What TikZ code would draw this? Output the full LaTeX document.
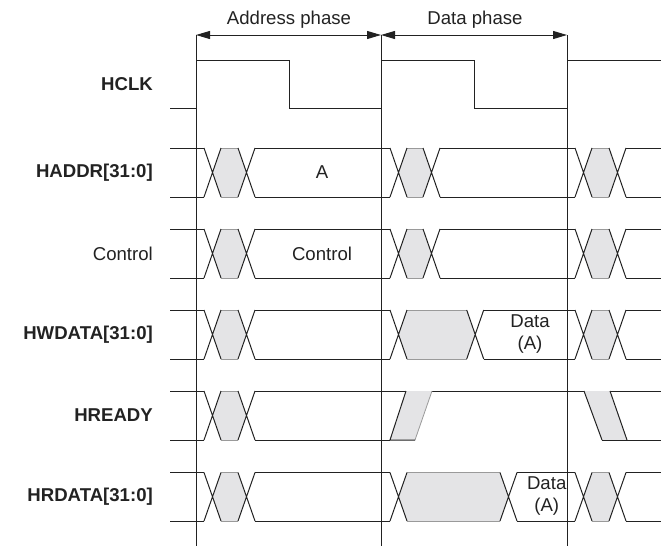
\documentclass[tikz,border=0pt]{standalone}
\usepackage{fontspec}
\setmainfont{Liberation Sans}
\usetikzlibrary{arrows.meta}
\definecolor{ink}{HTML}{222222}
\definecolor{invfill}{HTML}{E4E4E6}
\definecolor{invline}{HTML}{9A9A9A}
\newcommand\ahbinv[4]{%
  \fill[invfill] ({#1+8.5},{(#3+#4)/2}) -- ({#1+17},#3) -- (#2,#3) -- ({#2+8.5},{(#3+#4)/2}) -- (#2,#4) -- ({#1+17},#4) -- cycle;
  \draw[invline,line width=0.8pt] ({#1+17},#3) -- (#2,#3) ({#1+17},#4) -- (#2,#4);
  \draw[sig] (#1,#3) -- ({#1+17},#4) (#1,#4) -- ({#1+17},#3) (#2,#3) -- ({#2+17},#4) (#2,#4) -- ({#2+17},#3);
}
\newcommand\ahbline[4]{\draw[sig] (#1,#3) -- (#2,#3) (#1,#4) -- (#2,#4);}
\newcommand\ahbbus[3]{%
  \ahbline{170}{204}{#1}{#2}
  \ahbinv{204}{238}{#1}{#2}
  \ahbline{255}{390}{#1}{#2}
  \ahbinv{390}{#3}{#1}{#2}
  \ahbline{#3+17}{575}{#1}{#2}
  \ahbinv{575}{609}{#1}{#2}
  \ahbline{626}{661}{#1}{#2}
}
\begin{document}
\begin{tikzpicture}[x=1pt,y=-1pt,
  sig/.style={draw=ink,line width=1pt},
  lab/.style={anchor=east,inner sep=0pt,text=ink,font=\fontsize{18.6}{22}\selectfont},
  blab/.style={lab,font=\fontsize{18.6}{22}\selectfont\bfseries},
  val/.style={inner sep=0pt,text=ink,align=center,font=\fontsize{18.6}{22}\selectfont},
  phase/.style={draw=ink,line width=1pt,{Triangle[length=14pt,width=8pt]}-{Triangle[length=14pt,width=8pt]}}]
\useasboundingbox (0,0) rectangle (671,546);
% vertical clock-edge markers
\coordinate (t0) at (196,35); \coordinate (t0b) at (196,546);
\coordinate (t1) at (381,35); \coordinate (t1b) at (381,546);
\coordinate (t2) at (567,35); \coordinate (t2b) at (567,546);
\draw[sig] (t0) -- (t0b) (t1) -- (t1b) (t2) -- (t2b);
\draw[phase] (t0) -- (t1);
\draw[phase] (t1) -- (t2);
\node[val] (ap) at (289,20) {Address phase};
\node[val] (dp) at (475,20) {Data phase};
% labels
\node[blab] (lclk) at (153,84) {HCLK};
\node[blab] (laddr) at (153,172.5) {HADDR[31:0]};
\node[lab] (lctl) at (153,253.5) {Control};
\node[blab] (lwd) at (153,334.5) {HWDATA[31:0]};
\node[blab] (lrdy) at (153,415.5) {HREADY};
\node[blab] (lrd) at (153,496.5) {HRDATA[31:0]};
% clock
\draw[sig] (170,108) -- (196,108) -- (196,60) -- (289,60) -- (289,108) -- (381,108) -- (381,60) -- (474,60) -- (474,108) -- (567,108) -- (567,60) -- (661,60);
% buses
\ahbbus{148}{197}{423}
\node[val] (va) at (322,172.5) {A};
\ahbbus{229}{278}{423}
\node[val] (vc) at (322,253.5) {Control};
\ahbbus{310}{359}{466.7}
\node[val] (vwd) at (530,334.5) {Data\\(A)};
% HREADY
\ahbline{170}{204}{391}{440}
\ahbinv{204}{238}{391}{440}
\draw[sig] (255,391) -- (661,391);
\draw[sig] (255,440) -- (390,440);
\fill[invfill] (390,440) -- (406,391) -- (432,391) -- (415,440) -- cycle;
\draw[invline,line width=0.8pt] (432,391) -- (415,440);
\draw[sig] (415,440) -- (390,440) -- (406,391);
\fill[invfill] (584,391) -- (610,391) -- (627,440) -- (602,440) -- cycle;
\draw[sig] (584,391) -- (602,440) (610,391) -- (627,440);
\draw[sig] (602,440) -- (661,440);
% HRDATA
\ahbbus{472.5}{521}{500}
\node[val] (vrd) at (546.7,496) {Data\\(A)};
\end{tikzpicture}
\end{document}
